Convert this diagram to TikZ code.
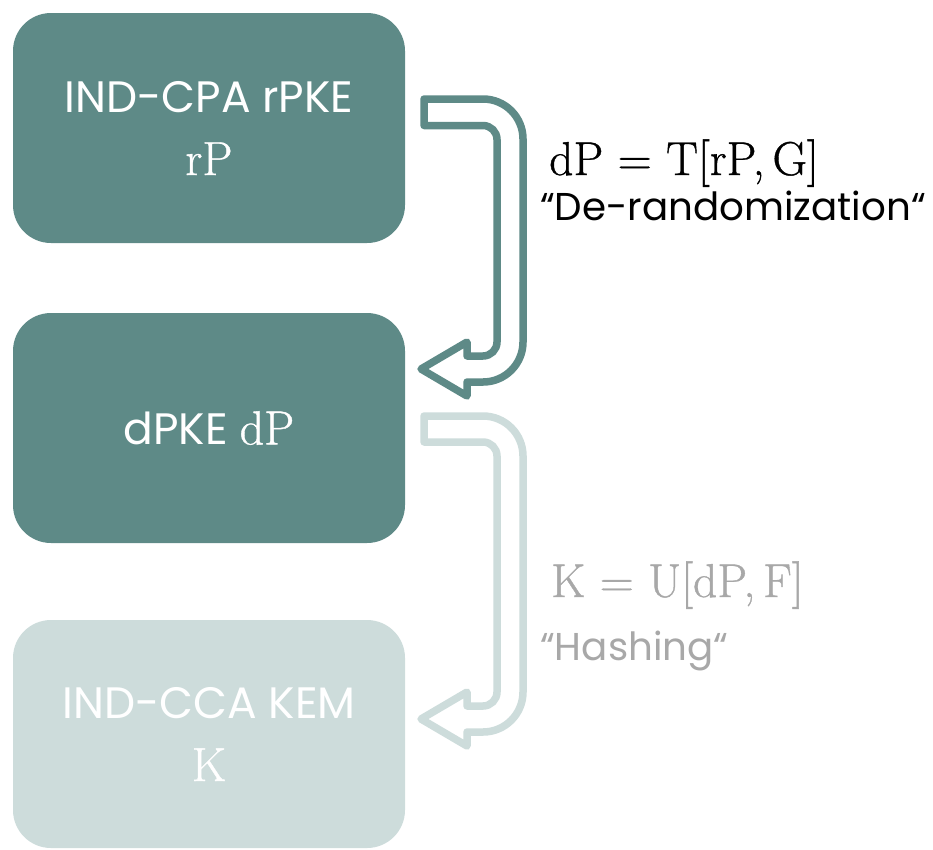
\documentclass[tikz,border=0pt]{standalone}
\usepackage{fontspec}
\newfontfamily\popp{Poppins}
\newfontfamily\serifm[FakeBold=0.8]{Latin Modern Roman}
\definecolor{tealdark}{HTML}{5E8A87}
\definecolor{teallight}{HTML}{CDDCDB}
\definecolor{graytxt}{HTML}{A8A8A8}
\begin{document}
\begin{tikzpicture}[x=1pt,y=-1pt,
  boxstyle/.style={rounded corners=38pt, minimum width=392pt, minimum height=230pt, inner sep=0pt, align=center, text=white, font=\popp\fontsize{44}{63}\selectfont},
  arrowline/.style={line width=7.5pt, line join=round, fill=white},
  mathlbl/.style={anchor=base west, inner sep=0pt, font=\serifm\fontsize{47.5}{50}\selectfont},
  quotelbl/.style={anchor=base west, inner sep=0pt, font=\popp\fontsize{38.8}{40}\selectfont}]
\useasboundingbox (0,0) rectangle (933,849);
\node[boxstyle, fill=tealdark] (rpke) at (209,128) {IND-CPA rPKE\\{\serifm\fontsize{48}{63}\selectfont rP}};
\node[boxstyle, fill=tealdark] (dpke) at (209,428) {dPKE {\serifm\fontsize{48}{63}\selectfont dP}};
\node[boxstyle, fill=teallight, minimum height=228pt] (kem) at (209,734) {IND-CCA KEM\\{\serifm\fontsize{48}{63}\selectfont K}};
% arrow 1
\draw[arrowline, draw=tealdark] (424,99) [rounded corners=40pt] -- (523,99) -- (523,382) [sharp corners] -- (467,382) -- (467,396) -- (421,369) -- (467,342) -- (467,356) [rounded corners=14pt] -- (497,356) -- (497,125.5) [sharp corners] -- (424,125.5) -- cycle;
% arrow 2
\draw[arrowline, draw=teallight] (424,416) [rounded corners=40pt] -- (523,416) -- (523,732) [sharp corners] -- (467,732) -- (467,746) -- (421,719) -- (467,692) -- (467,706) [rounded corners=14pt] -- (497,706) -- (497,442) [sharp corners] -- (424,442) -- cycle;
\node[mathlbl] (eq1) at (549,175) {dP = T[rP,\,G]};
\node[quotelbl] (q1) at (540,220) {“De-randomization“};
\node[mathlbl, text=graytxt] (eq2) at (551,597) {K = U[dP,\,F]};
\node[quotelbl, text=graytxt] (q2) at (540,660) {“Hashing“};
\end{tikzpicture}
\end{document}
